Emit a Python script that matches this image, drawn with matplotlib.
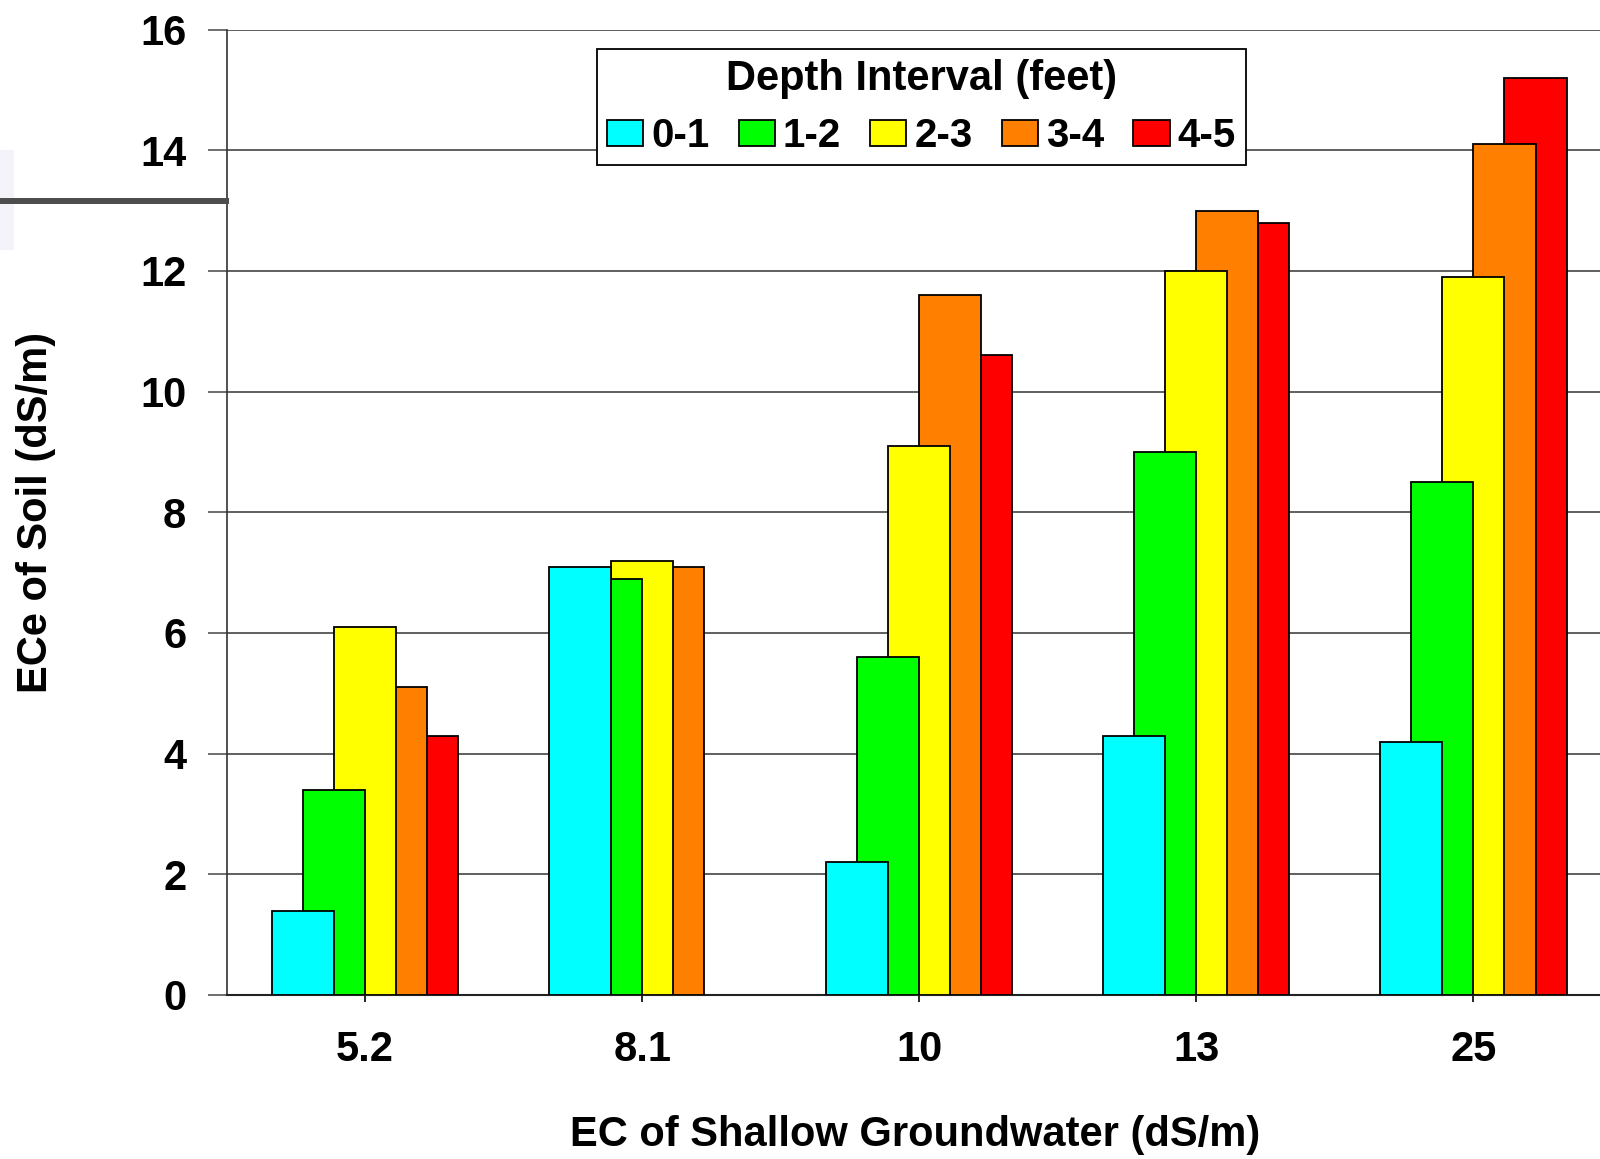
import matplotlib.pyplot as plt
import numpy as np
from matplotlib.lines import Line2D
from matplotlib.patches import Rectangle

# EC of shallow groundwater (categories) and soil ECe per depth interval
categories = ['5.2', '8.1', '10', '13', '25']
depths = ['0-1', '1-2', '2-3', '3-4', '4-5']
ece_0_1 = [1.4, 7.1, 2.2, 4.3, 4.2]
ece_1_2 = [3.4, 6.9, 5.6, 9.0, 8.5]
ece_2_3 = [6.1, 7.2, 9.1, 12.0, 11.9]
ece_3_4 = [5.1, 7.1, 11.6, 13.0, 14.1]
ece_4_5 = [4.3, np.nan, 10.6, 12.8, 15.2]
colors = ['#00ffff', '#00ff00', '#ffff00', '#ff8000', '#ff0000']

plt.rcParams['font.family'] = ['Liberation Sans', 'DejaVu Sans']
plt.rcParams['font.weight'] = 'bold'

fig = plt.figure(figsize=(16, 11.59), dpi=100)
W, H = 1600, 1159
ax = fig.add_axes([226.5 / W, 1 - 995 / H, (1612 - 226.5) / W, (995 - 29.6) / H])

series = [ece_0_1, ece_1_2, ece_2_3, ece_3_4, ece_4_5]
x = np.arange(len(categories))
w = 0.224
for i, vals in enumerate(series):
    ax.bar(x + (i - 2) * w / 2, vals, width=w, color=colors[i], edgecolor='black',
           linewidth=1.3, label=depths[i], zorder=10 - i)

ax.set_xlim(-0.5, 4.5)
ax.set_ylim(0, 16)
ax.set_yticks(range(0, 17, 2))
ax.set_xticks(x)
ax.set_xticklabels(categories)
ax.yaxis.grid(True, color='#444444', linewidth=1.2)
ax.set_axisbelow(True)
for s in ['top', 'right']:
    ax.spines[s].set_visible(False)
ax.spines['left'].set_color('#333333')
ax.spines['bottom'].set_color('#222222')
ax.spines['left'].set_linewidth(1.2)
ax.spines['bottom'].set_linewidth(1.5)
ax.tick_params(axis='y', length=14, width=1.2, color='#555555', pad=15, labelsize=30)
ax.tick_params(axis='x', length=5, width=1.2, pad=20, labelsize=30)
for lbl in ax.get_xticklabels() + ax.get_yticklabels():
    lbl.set_fontweight('bold')

fig.text(915 / W, 1 - 1135 / H, 'EC of Shallow Groundwater (dS/m)', ha='center', va='center',
         fontsize=30, fontweight='bold')
fig.text(36 / W, 1 - 512 / H, 'ECe of Soil (dS/m)', ha='center', va='center',
         rotation=90, fontsize=30, fontweight='bold')

leg = ax.legend(ncol=5, title='Depth Interval (feet)', loc='upper left',
                bbox_to_anchor=(597 / W, 1 - 49 / H), bbox_transform=fig.transFigure,
                borderaxespad=0, fancybox=False, framealpha=1, edgecolor='black',
                fontsize=29, title_fontsize=30, handlelength=0.9, handleheight=0.65,
                handletextpad=0.2, columnspacing=0.72, borderpad=0.25, labelspacing=0.45)
leg.get_frame().set_linewidth(1.3)
leg.get_title().set_fontweight('bold')
leg.set_zorder(20)

# slide artifacts on the left edge
fig.add_artist(Rectangle((0, 1 - 250 / H), 14 / W, 100 / H, transform=fig.transFigure,
                         facecolor='#f3f3f9', edgecolor='none'))
fig.add_artist(Line2D([0, 226 / W], [1 - 201 / H, 1 - 201 / H], transform=fig.transFigure,
                      color='#4d4d4d', linewidth=4.3))

fig.savefig('out.png', dpi=100)
